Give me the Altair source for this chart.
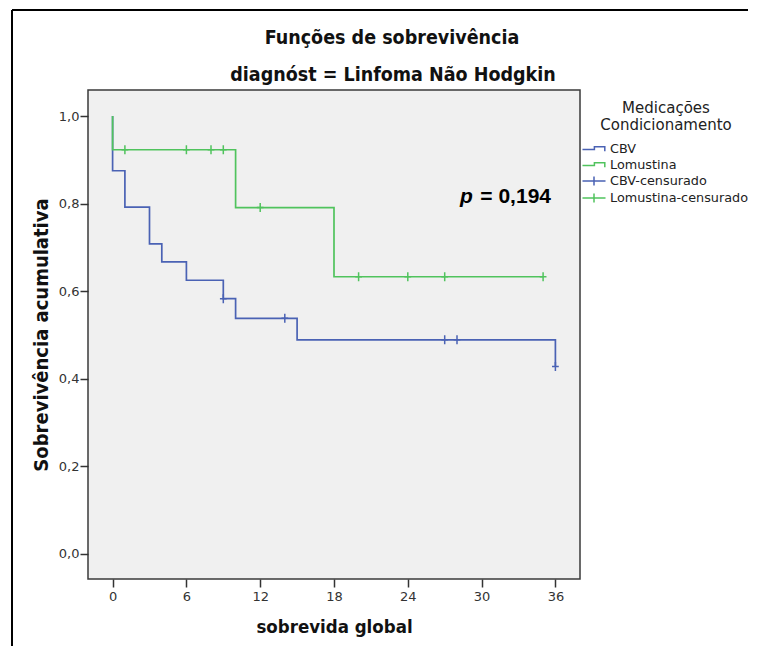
import altair as alt
import pandas as pd

# ---- data ----
cbv_tempo = [0, 0, 1, 3, 4, 6, 9, 10, 15, 36]
cbv_sobrev = [1.0, 0.875, 0.792, 0.708, 0.667, 0.625, 0.583, 0.538, 0.489, 0.428]
lom_tempo = [0, 0, 10, 18, 35]
lom_sobrev = [1.0, 0.923, 0.791, 0.633, 0.633]
cbv_cens_tempo = [9, 14, 27, 28, 36]
cbv_cens_sobrev = [0.583, 0.538, 0.489, 0.489, 0.428]
lom_cens_tempo = [1, 6, 8, 9, 12, 20, 24, 27, 35]
lom_cens_sobrev = [0.923, 0.923, 0.923, 0.923, 0.791, 0.633, 0.633, 0.633, 0.633]

grupos = ["CBV", "Lomustina", "CBV-censurado", "Lomustina-censurado"]
azul, verde = "#4a62b4", "#50c35d"
cores = [azul, verde, azul, verde]
x_ticks = [0, 6, 12, 18, 24, 30, 36]
y_ticks = [0.0, 0.2, 0.4, 0.6, 0.8, 1.0]
titulo = ["Funções de sobrevivência", "diagnóst = Linfoma Não Hodgkin"]
p_texto = "= 0,194"

# ---- tables ----
df_cbv = pd.DataFrame({"tempo": cbv_tempo, "sobrev": cbv_sobrev,
                       "ordem": list(range(len(cbv_tempo)))})
df_lom = pd.DataFrame({"tempo": lom_tempo, "sobrev": lom_sobrev,
                       "ordem": list(range(len(lom_tempo)))})
df_cens_cbv = pd.DataFrame({"tempo": cbv_cens_tempo, "sobrev": cbv_cens_sobrev})
df_cens_lom = pd.DataFrame({"tempo": lom_cens_tempo, "sobrev": lom_cens_sobrev})
df_leg = pd.DataFrame({"grupo": grupos})
df_one = pd.DataFrame({"a": [0]})

W, H = 492, 489
TOTAL_W, TOTAL_H = 762, 646
TITLE_FONT = "DejaVu Sans Condensed, DejaVu Sans, sans-serif"
LABEL_FONT = "DejaVu Sans, sans-serif"
P_FONT = "Liberation Sans, Arial, sans-serif"

xscale = alt.Scale(domain=[-2, 38], nice=False, zero=False)
yscale = alt.Scale(domain=[-0.0571, 1.0594], nice=False, zero=False)

STEP = "M -1.44 0.06 L 0.05 0.06 L 0.05 -0.28 L 1.35 -0.28 L 1.35 0.29"
PLUS_LEG = "M -1.44 0 L 1.44 0 M 0 -0.56 L 0 0.56"
PLUS = "M -0.75 0 L 0.75 0 M 0 -1 L 0 1"

xaxis = alt.Axis(values=x_ticks, grid=False, domain=False, tickSize=8, tickWidth=1.5,
                 tickColor="#333", labelFont=LABEL_FONT, labelFontSize=13, labelColor="#333",
                 labelPadding=3, labelFlush=False, title="sobrevida global",
                 titleFont=TITLE_FONT, titleFontSize=18.5, titleFontWeight="bold",
                 titleColor="#111", titleY=47, titleBaseline="middle")
yaxis = alt.Axis(values=y_ticks, grid=False, domain=False, tickSize=8, tickWidth=1.5,
                 tickColor="#333", labelFont=LABEL_FONT, labelFontSize=13, labelColor="#333",
                 labelPadding=1, labelFlush=False,
                 labelExpr="replace(format(datum.value, '.1f'), '.', ',')",
                 title="Sobrevivência acumulativa", titleFont=TITLE_FONT, titleFontSize=20,
                 titleFontWeight="bold", titleColor="#111", titleX=-47, titleY=H / 2,
                 titleBaseline="middle", titleAngle=270)

X = alt.X("tempo:Q", scale=xscale, axis=xaxis)
Y = alt.Y("sobrev:Q", scale=yscale, axis=yaxis)

linha_cbv = alt.Chart(df_cbv).mark_line(interpolate="step-after", strokeWidth=1.7, color=azul).encode(
    x=X, y=Y, order="ordem:Q")
linha_lom = alt.Chart(df_lom).mark_line(interpolate="step-after", strokeWidth=1.7, color=verde).encode(
    x=X, y=Y, order="ordem:Q")

cens_cbv = alt.Chart(df_cens_cbv).mark_point(shape=PLUS, size=81, filled=False, strokeWidth=1.5,
                                            opacity=1, color=azul).encode(x=X, y=Y)
cens_lom = alt.Chart(df_cens_lom).mark_point(shape=PLUS, size=81, filled=False, strokeWidth=1.5,
                                            opacity=1, color=verde).encode(x=X, y=Y)

leg_title = ["Medicações", "Condicionamento"]
legenda = alt.Chart(df_leg).mark_point(filled=False, clip=True, strokeWidth=1.5, opacity=1).encode(
    x=alt.value(-2000), y=alt.value(-2000),
    color=alt.Color("grupo:N", scale=alt.Scale(domain=grupos, range=cores), title=leg_title,
                    legend=alt.Legend(
        orient="none", legendX=497, legendY=11,
        titleFont=LABEL_FONT, titleFontSize=15, titleFontWeight="normal", titleColor="#222",
        titleAnchor="middle", titleAlign="center", titleLineHeight=17, titlePadding=7,
        labelFont=LABEL_FONT, labelFontSize=12.8, labelColor="#222", labelOffset=7,
        symbolSize=256, symbolStrokeWidth=1.5, symbolOpacity=1, rowPadding=0, padding=0)),
    shape=alt.Shape("grupo:N", scale=alt.Scale(domain=grupos, range=[STEP, STEP, PLUS_LEG, PLUS_LEG]),
                    title=leg_title),
)

t1 = alt.Chart(df_one).mark_text(text=titulo[0], font=TITLE_FONT, fontSize=19.5, fontWeight="bold",
                                 color="#111", align="center", baseline="middle").encode(
    x=alt.value(392 - 88), y=alt.value(38 - 90))
t2 = alt.Chart(df_one).mark_text(text=titulo[1], font=TITLE_FONT, fontSize=19.5, fontWeight="bold",
                                 color="#111", align="center", baseline="middle").encode(
    x=alt.value(393 - 88), y=alt.value(75 - 90))

p1 = alt.Chart(df_one).mark_text(text="p", font=P_FONT, fontSize=21,
                                 fontWeight="bold", fontStyle="italic", color="#000",
                                 align="left", baseline="alphabetic").encode(
    x=alt.value(460 - 88), y=alt.value(203 - 90))
p2 = alt.Chart(df_one).mark_text(text=p_texto, font=P_FONT, fontSize=21,
                                 fontWeight="bold", color="#000",
                                 align="right", baseline="alphabetic").encode(
    x=alt.value(551 - 88), y=alt.value(203 - 90))

moldura_v = alt.Chart(df_one).mark_rule(color="#000", strokeWidth=2).encode(
    x=alt.value(12 - 88), x2=alt.value(12 - 88),
    y=alt.value(10 - 90), y2=alt.value(TOTAL_H - 90))
moldura_h = alt.Chart(df_one).mark_rule(color="#000", strokeWidth=2).encode(
    x=alt.value(12 - 88), x2=alt.value(TOTAL_W - 88 - 14),
    y=alt.value(10 - 90), y2=alt.value(10 - 90))

chart = alt.layer(linha_cbv, linha_lom, cens_cbv, cens_lom, legenda, t1, t2, p1, p2,
                  moldura_v, moldura_h).properties(
    width=W, height=H, autosize="none",
    padding={"left": 88, "top": 90, "right": TOTAL_W - 88 - W, "bottom": TOTAL_H - 90 - H},
    background="white",
).configure_view(fill="#f0f0f0", stroke="#3a3a3a", strokeWidth=1.5)

chart.save("out.html", embed_options={"renderer": "svg", "actions": False})
